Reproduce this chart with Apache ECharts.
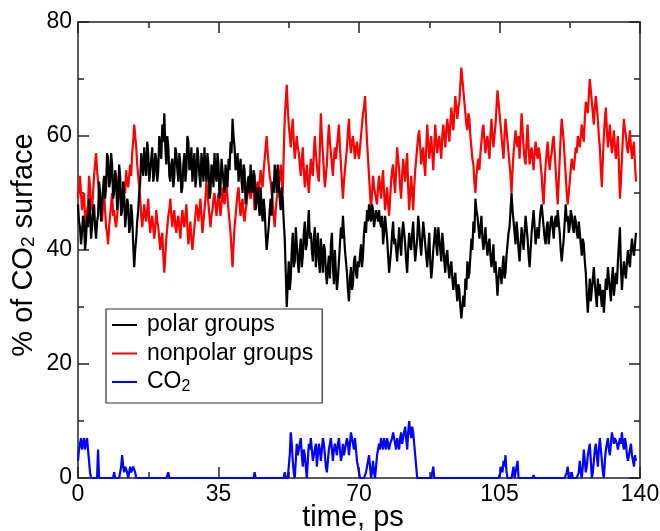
<!DOCTYPE html>
<html>
<head>
<meta charset="utf-8">
<script src="https://cdn.jsdelivr.net/npm/echarts@6/dist/echarts.min.js"></script>
<style>
  html, body { margin: 0; padding: 0; background: #fff; }
  #chart { width: 660px; height: 531px; }
</style>
</head>
<body>
<div id="chart"></div>
<script>
// Sampling interval of the trajectory (ps)
const timeStep = 0.25;

const seriesNames = ['polar groups', 'nonpolar groups', 'CO2'];

// % of CO2 surface in contact with polar groups (one row = 5 ps)
const polar = [
  48,45,44,41,43,46,45,40,42,46,44,49,47,42,44,47,48,44,42,45,
  46,52,50,45,48,51,53,49,51,57,56,51,52,57,55,49,50,54,53,47,
  49,55,53,46,47,52,50,44,46,49,48,43,44,48,46,41,37,40,42,45,
  47,50,52,57,55,53,58,55,53,59,57,52,54,56,58,52,53,57,56,52,
  54,60,58,56,62,59,64,58,55,60,58,53,52,55,56,51,53,58,57,54,
  52,57,55,50,51,55,57,52,54,60,59,54,55,58,52,55,57,51,53,58,
  56,53,51,57,55,52,58,54,52,57,55,49,50,55,54,51,57,54,52,57,
  55,49,51,56,54,52,50,55,53,51,56,54,59,57,63,60,58,54,55,57,
  52,54,56,52,50,55,54,48,49,52,53,50,55,52,50,54,53,47,49,51,
  48,46,51,47,45,49,47,43,40,42,44,47,49,46,52,50,55,53,50,55,
  52,49,47,51,49,45,42,36,30,34,38,33,35,40,43,37,38,44,41,38,
  36,40,42,37,39,43,45,40,41,44,47,42,43,40,38,42,44,37,40,43,
  38,36,42,39,36,41,40,36,34,37,39,35,41,43,37,34,40,36,33,35,
  38,41,44,42,46,43,40,38,36,33,31,35,37,33,34,38,39,36,35,38,
  37,39,41,37,39,43,45,43,47,45,48,46,45,48,47,44,44,47,46,45,
  47,45,44,46,41,43,46,44,42,39,36,38,40,43,45,41,42,40,38,41,
  44,41,39,43,45,43,41,38,36,40,43,41,40,43,45,41,38,40,42,46,
  44,41,39,42,45,43,41,39,37,40,43,38,35,37,40,42,44,41,39,44,
  42,40,38,43,41,38,36,39,40,37,35,37,38,35,33,35,36,33,31,34,
  33,30,28,30,32,30,35,33,38,35,36,39,42,40,45,43,49,47,46,44,
  42,44,46,42,40,42,44,41,39,41,42,39,37,39,41,36,38,35,32,35,
  37,36,34,37,39,35,36,39,41,43,44,47,50,47,45,43,41,45,43,40,
  38,41,44,42,40,43,46,44,42,39,37,40,43,45,47,44,41,43,44,42,
  45,47,48,46,44,42,41,44,45,41,43,45,46,44,42,45,46,44,47,45,
  43,40,38,40,42,45,48,45,46,43,44,47,46,44,43,46,45,43,42,45,
  43,41,39,42,41,38,36,32,29,32,35,31,33,35,37,34,32,30,35,32,
  34,32,30,33,29,32,35,33,37,35,33,31,35,37,32,34,36,34,38,41,
  44,37,33,36,38,36,35,38,40,38,37,40,42,40,39,41,43
];

// % of CO2 surface in contact with nonpolar groups (one row = 5 ps)
const nonpolar = [
  49,51,53,50,47,49,50,46,44,47,48,53,51,48,47,50,53,55,57,54,
  52,50,48,46,45,48,50,47,44,43,41,44,46,48,50,46,47,45,44,46,
  48,50,51,49,47,50,52,50,54,52,51,53,55,53,57,59,62,60,58,55,
  53,51,49,46,44,46,48,46,45,47,49,45,43,45,46,44,42,44,47,45,
  44,42,40,42,43,39,36,39,42,44,46,47,49,46,44,46,47,44,43,45,
  46,44,42,45,47,45,44,46,48,44,41,43,45,42,40,42,44,46,48,47,
  45,47,49,46,43,45,47,49,52,50,48,46,44,46,47,49,50,48,46,48,
  50,48,46,48,51,49,48,50,52,49,47,45,43,40,37,41,44,46,48,50,
  51,48,46,48,49,46,45,47,48,50,52,50,49,51,53,50,47,49,51,52,
  50,52,54,52,51,54,56,58,60,57,55,53,52,50,48,46,44,47,49,50,
  51,53,55,52,50,57,63,66,69,65,62,60,58,61,63,59,56,58,60,58,
  57,55,53,56,58,54,51,53,55,52,50,53,56,54,53,57,60,57,55,53,
  52,58,64,60,57,54,51,53,55,59,62,59,57,55,53,56,58,56,56,60,
  62,58,55,52,49,52,54,56,58,61,63,59,57,59,60,58,56,58,59,57,
  56,58,60,62,64,65,67,63,59,56,53,50,47,50,53,51,50,49,48,51,
  53,51,49,52,54,50,47,49,51,48,46,49,52,54,55,52,50,54,58,56,
  54,51,49,53,56,54,52,55,57,51,47,50,53,50,47,51,54,56,58,60,
  61,58,55,57,58,55,53,58,62,59,56,58,60,57,54,58,62,59,57,59,
  60,58,56,60,62,60,58,61,63,61,59,62,65,63,61,64,67,65,63,65,
  66,69,72,70,68,66,64,62,61,64,63,60,58,56,55,52,50,53,55,56,
  54,57,59,61,62,59,57,59,60,58,56,60,63,60,58,60,62,65,68,66,
  64,62,60,58,56,60,63,61,59,57,55,53,50,54,57,59,61,59,58,60,
  56,60,64,61,58,56,55,59,62,58,55,57,58,56,54,57,59,57,56,58,
  57,55,53,50,48,52,55,57,59,56,54,56,57,59,60,57,54,51,48,52,
  56,60,63,61,59,56,53,50,48,50,52,54,56,55,54,56,58,57,60,59,
  58,60,62,60,59,63,66,65,64,67,70,68,66,64,62,65,67,65,63,60,
  58,54,51,56,60,63,65,61,58,60,62,59,57,59,61,58,56,58,60,55,
  49,52,56,60,63,61,60,58,57,59,61,58,56,58,59,55,52
];

// % of CO2 surface in contact with other CO2 molecules (one row = 5 ps)
const co2 = [
  3,5,6,7,5,6,7,5,6,7,5,3,1,0,0,0,0,0,0,0,
  5,0,0,0,0,0,0,0,0,0,0,0,0,0,0,0,1,0,0,0,
  0,0,0,2,4,2,1,2,2,1,0,1,2,1,1,2,2,1,0,0,
  0,0,0,0,0,0,0,0,0,0,0,0,0,0,0,0,0,0,0,0,
  0,0,0,0,0,0,0,0,0,0,1,0,0,0,0,0,0,0,0,0,
  0,0,0,0,0,0,0,0,0,0,0,0,0,0,0,0,0,0,0,0,
  0,0,0,0,0,0,0,0,0,0,0,0,0,0,0,0,0,0,0,0,
  0,0,0,0,0,0,0,0,0,0,0,0,0,0,0,0,0,0,0,0,
  0,0,0,0,0,0,0,0,0,0,0,0,0,0,0,0,1,0,0,0,
  0,0,0,0,0,0,0,0,0,0,0,0,0,0,0,0,0,0,0,0,
  0,0,0,0,0,0,1,0,0,0,0,4,8,6,3,1,0,3,6,4,
  5,6,7,4,2,5,4,2,0,3,6,5,7,5,3,4,5,6,2,4,
  6,5,3,5,7,6,4,2,1,3,5,6,7,5,3,5,6,5,4,6,
  7,5,3,4,6,4,5,6,7,6,4,6,8,7,6,5,7,5,3,2,
  1,0,0,0,0,0,0,1,2,3,4,2,0,1,3,1,0,2,4,5,
  6,5,7,6,5,7,6,5,7,6,5,6,6,7,8,7,6,5,7,6,
  5,7,8,6,6,8,9,7,5,8,10,8,7,9,8,6,4,2,0,0,
  0,0,0,0,0,0,0,0,0,0,0,0,0,0,2,0,0,0,0,0,
  0,0,0,0,0,0,0,0,0,0,0,0,0,0,0,0,0,0,0,0,
  0,0,0,0,0,0,0,0,0,0,0,0,0,0,0,0,0,0,0,0,
  0,0,0,0,0,0,0,0,0,0,0,0,0,0,0,0,0,0,0,0,
  0,1,2,1,3,2,4,1,0,0,0,0,0,1,2,0,1,2,3,0,
  0,0,0,0,0,0,0,0,0,0,0,0,0,0,0.5,0,0,0,0,0,
  0,0,0,0,0,0,0,0,0,0,0,0,0,0,0,0,0,0,0,0,
  0,0,0,0,0,0,0,1,2,0,0,0,1,0,0,0,0,0,0,1,
  3,1,0,2,5,3,1,2,4,5,6,3,0,1,3,5,6,4,2,5,
  7,5,3,1,0,3,5,6,7,5,4,6,8,7,6,7,7,6,5,6,
  7,6,8,6,5,7,6,4,3,4,5,6,4,3,2,4,3
];

const seriesColors = ['#000000', '#ff0000', '#0000ff'];

const toPairs = arr => arr.map((v, i) => [i * timeStep, v]);

const frameLine = { color: '#222', width: 1.5 };
const fontFamily = 'Liberation Sans, Arial, Helvetica, sans-serif';

function frameAxis(position, isX, labelled) {
  return {
    type: 'value',
    position: position,
    min: 0,
    max: isX ? 140 : 80,
    interval: isX ? 35 : 20,
    axisLine: { show: true, onZero: false, lineStyle: frameLine },
    axisTick: { show: true, inside: true, length: 11, lineStyle: frameLine },
    minorTick: { show: true, splitNumber: 2, length: 6, lineStyle: frameLine },
    splitLine: { show: false },
    minorSplitLine: { show: false },
    axisLabel: {
      show: labelled,
      color: '#000',
      fontSize: 23,
      fontFamily: fontFamily,
      margin: isX ? 5 : 6
    }
  };
}

const xBottom = frameAxis('bottom', true, true);
xBottom.name = 'time, ps';
xBottom.nameLocation = 'middle';
xBottom.nameGap = 25;
xBottom.nameMoveOverlap = false;
xBottom.nameTextStyle = { fontSize: 29, color: '#000', fontFamily: fontFamily, padding: [0, 12, 0, 0] };

const yLeft = frameAxis('left', false, true);
yLeft.name = '% of CO{sub|2} surface';
yLeft.nameLocation = 'middle';
yLeft.nameRotate = 90;
yLeft.nameGap = 40;
yLeft.nameMoveOverlap = false;
yLeft.nameTextStyle = {
  fontSize: 29, color: '#000', fontFamily: fontFamily,
  padding: [0, 0, 0, 10],
  rich: {
    sub: { fontSize: 19, color: '#000', fontFamily: fontFamily, verticalAlign: 'bottom', lineHeight: 16 }
  }
};

const chart = echarts.init(document.getElementById('chart'), null, { renderer: 'canvas' });

chart.setOption({
  animation: false,
  backgroundColor: '#ffffff',
  grid: { left: 78, top: 22, width: 562, height: 456, containLabel: false, outerBoundsMode: 'none' },
  legend: {
    orient: 'vertical',
    left: 106,
    top: 309,
    data: seriesNames,
    icon: 'rect',
    itemWidth: 25,
    itemHeight: 2,
    itemGap: 2.5,
    padding: [3, 9, 8, 6],
    borderColor: '#333',
    borderWidth: 1.2,
    backgroundColor: '#fff',
    selectedMode: false,
    formatter: name => name === 'CO2' ? 'CO{sub|2}' : name,
    textStyle: {
      fontSize: 23,
      lineHeight: 26,
      color: '#000',
      fontFamily: fontFamily,
      padding: [0, 0, 0, 5],
      rich: {
        sub: { fontSize: 16, color: '#000', fontFamily: fontFamily, verticalAlign: 'bottom', lineHeight: 12 }
      }
    }
  },
  xAxis: [xBottom, frameAxis('top', true, false)],
  yAxis: [yLeft, frameAxis('right', false, false)],
  series: [polar, nonpolar, co2].map((arr, k) => ({
    name: seriesNames[k],
    type: 'line',
    xAxisIndex: 0,
    yAxisIndex: 0,
    data: toPairs(arr),
    showSymbol: false,
    symbol: 'none',
    lineStyle: { color: seriesColors[k], width: 2.2 },
    itemStyle: { color: seriesColors[k] },
    z: 3 - k
  }))
});
</script>
</body>
</html>
